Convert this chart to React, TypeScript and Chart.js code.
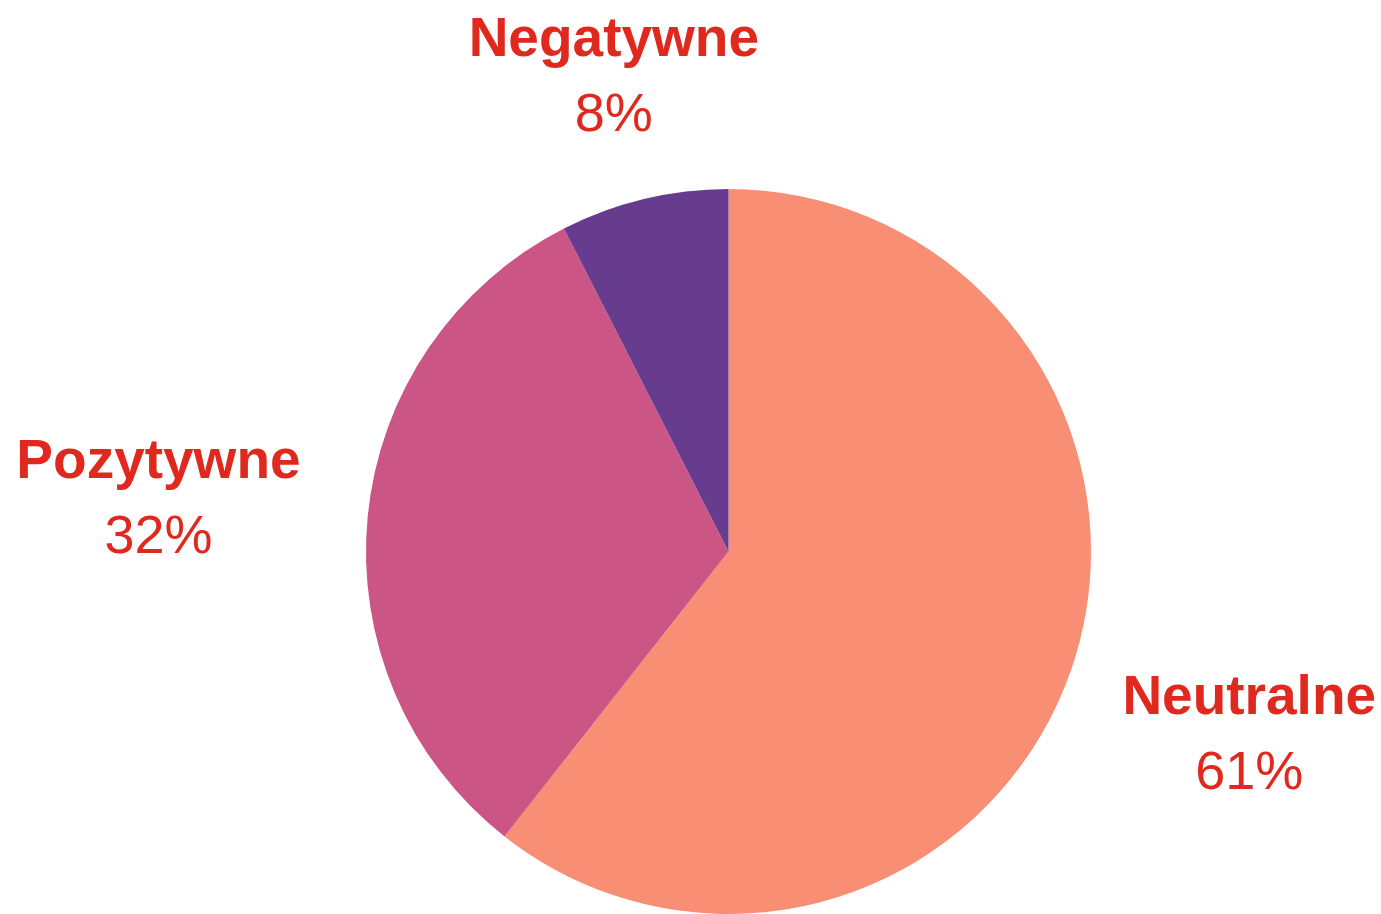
import React, { useEffect, useRef } from "react";
import { Chart, registerables } from "chart.js";

Chart.register(...registerables);

const categories = ["Neutralne", "Pozytywne", "Negatywne"];
const values = [60.6, 31.9, 7.5];
const percentLabels = ["61%", "32%", "8%"];
const colors = ["#F88F74", "#CB5585", "#673C8E"];
const labelDistance = [1.52, 1.58, 1.355];

const labelPlugin = {
  id: "outerLabels",
  afterDraw(chart: any) {
    const ctx = chart.ctx;
    const meta = chart.getDatasetMeta(0);
    ctx.save();
    ctx.fillStyle = "#E0291E";
    ctx.textAlign = "center";
    ctx.textBaseline = "alphabetic";
    meta.data.forEach((arc: any, i: number) => {
      const p = arc.getProps(["x", "y", "startAngle", "endAngle", "outerRadius"], true);
      const mid = (p.startAngle + p.endAngle) / 2;
      const d = p.outerRadius * labelDistance[i];
      const cx = p.x + Math.cos(mid) * d;
      const cy = p.y + Math.sin(mid) * d;
      ctx.font = "bold 55px 'Liberation Sans', Arial, sans-serif";
      ctx.fillText(categories[i], cx, cy - 18);
      ctx.font = "54px 'Liberation Sans', Arial, sans-serif";
      ctx.fillText(percentLabels[i], cx, cy + 57.5);
    });
    ctx.restore();
  },
};

export default function App() {
  const ref = useRef<HTMLCanvasElement | null>(null);
  useEffect(() => {
    if (!ref.current) return;
    const chart = new Chart(ref.current, {
      type: "pie",
      data: {
        labels: categories,
        datasets: [
          {
            data: values,
            backgroundColor: colors,
            borderWidth: 0,
          },
        ],
      },
      options: {
        animation: false,
        responsive: true,
        maintainAspectRatio: false,
        layout: { padding: { top: 189, bottom: 0, left: 366, right: 290 } },
        plugins: {
          legend: { display: false },
          tooltip: { enabled: false },
        },
      },
      plugins: [labelPlugin],
    });
    return () => chart.destroy();
  }, []);
  return (
    <div style={{ position: "fixed", left: 0, top: 0, width: 1381, height: 914, background: "#fff" }}>
      <canvas ref={ref} />
    </div>
  );
}
